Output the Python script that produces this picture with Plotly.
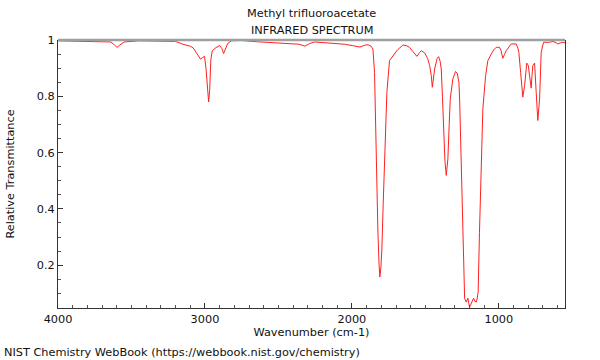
import plotly.graph_objects as go

wavenumber = [4000, 3900, 3800, 3700, 3640, 3615, 3598, 3580, 3550, 3450, 3300, 3200, 3150, 3100,
              3080, 3060, 3045, 3030, 3015, 3003, 2993, 2985, 2975, 2968, 2960, 2950, 2925, 2900,
              2885, 2873, 2862, 2845, 2820, 2750, 2650, 2550, 2450, 2360, 2320, 2290, 2254, 2130,
              2050, 1995, 1946, 1910, 1890, 1870, 1857, 1846, 1834, 1823, 1815, 1810, 1803, 1796,
              1787, 1778, 1762, 1744, 1721, 1690, 1653, 1630, 1608, 1585, 1558, 1540, 1528, 1505,
              1485, 1471, 1460, 1453, 1445, 1437, 1420, 1410, 1400, 1392, 1384, 1376, 1367, 1358,
              1347, 1338, 1331, 1313, 1295, 1283, 1272, 1267, 1256, 1245, 1233, 1222, 1216, 1211,
              1205, 1199, 1193, 1188, 1180, 1172, 1163, 1154, 1148, 1141, 1132, 1120, 1109, 1090,
              1075, 1052, 1035, 1018, 996, 985, 973, 962, 950, 916, 882, 870, 864, 852, 837, 825,
              810, 800, 796, 784, 780, 775, 769, 757, 750, 746, 735, 723, 712, 696, 655, 632, 610,
              599, 580, 565, 550]
transmittance = [0.997, 0.996, 0.995, 0.996, 0.993, 0.982, 0.974, 0.982, 0.993, 0.997, 0.997, 0.995, 0.985, 0.978,
                 0.972, 0.955, 0.94, 0.932, 0.938, 0.942, 0.9, 0.83, 0.78, 0.82, 0.93, 0.962, 0.973, 0.98,
                 0.97, 0.952, 0.968, 0.988, 0.997, 0.998, 0.994, 0.991, 0.989, 0.985, 0.978, 0.987, 0.993, 0.989,
                 0.985, 0.98, 0.975, 0.982, 0.983, 0.978, 0.968, 0.885, 0.555, 0.317, 0.2, 0.158, 0.19, 0.258,
                 0.42, 0.578, 0.814, 0.927, 0.945, 0.965, 0.982, 0.98, 0.974, 0.958, 0.942, 0.955, 0.962, 0.954,
                 0.935, 0.909, 0.874, 0.832, 0.86, 0.897, 0.935, 0.941, 0.925, 0.897, 0.8, 0.672, 0.57, 0.519,
                 0.578, 0.7, 0.79, 0.862, 0.888, 0.882, 0.85, 0.79, 0.554, 0.258, 0.081, 0.069, 0.08, 0.083,
                 0.065, 0.051, 0.058, 0.063, 0.075, 0.083, 0.072, 0.069, 0.08, 0.104, 0.317, 0.554, 0.755, 0.874,
                 0.927, 0.95, 0.965, 0.974, 0.974, 0.962, 0.935, 0.948, 0.962, 0.986, 0.986, 0.97, 0.956, 0.885, 0.797, 0.838,
                 0.918, 0.91, 0.897, 0.85, 0.829, 0.87, 0.909, 0.918, 0.87, 0.814, 0.714, 0.79, 0.956, 0.992, 0.992, 0.995, 0.99,
                 0.986, 0.99, 0.992, 0.99]

x_tick_vals = [4000, 3000, 2000, 1000]
y_tick_vals = [0.2, 0.4, 0.6, 0.8, 1.0]
y_tick_text = ["0.2", "0.4", "0.6", "0.8", "1"]

FONT = "DejaVu Sans"
FS = 11.3

fig = go.Figure()
fig.add_trace(go.Scatter(x=wavenumber, y=transmittance, mode="lines",
                         line=dict(color="#ff2020", width=1), hoverinfo="skip"))

fig.update_layout(
    width=600, height=360,
    margin=dict(l=58, r=35, t=40, b=52, autoexpand=False),
    paper_bgcolor="white", plot_bgcolor="white",
    showlegend=False,
    font=dict(family=FONT, size=FS, color="#111"),
    xaxis=dict(range=[4000, 550], tickvals=x_tick_vals, ticks="inside", ticklen=5,
               tickcolor="#333", showline=True, linecolor="#333", linewidth=1,
               showgrid=False, zeroline=False, mirror=False, automargin=False,
               minor=dict(dtick=100, tick0=0, ticks="inside", ticklen=3, tickcolor="#555"),
               title=dict(text="Wavenumber (cm-1)", standoff=0, font=dict(size=FS, color="#111")),
               tickfont=dict(size=FS, color="#111")),
    yaxis=dict(range=[0.048, 1.0], tickvals=y_tick_vals, ticktext=y_tick_text,
               ticks="inside", ticklen=5, tickcolor="#333",
               showline=True, linecolor="#333", linewidth=1, mirror=True,
               showgrid=False, zeroline=False, automargin=False,
               minor=dict(dtick=0.05, tick0=0, ticks="inside", ticklen=3, tickcolor="#555"),
               title=dict(text="Relative Transmittance", standoff=19, font=dict(size=FS, color="#111")),
               tickfont=dict(size=FS, color="#111")),
    shapes=[dict(type="line", xref="paper", yref="paper", x0=0, x1=1, y0=1, y1=1,
                 line=dict(color="#a0a0a0", width=2.5))],
    annotations=[
        dict(text="Methyl trifluoroacetate", xref="paper", yref="paper", x=0.5, y=1,
             yshift=27, showarrow=False, xanchor="center", yanchor="middle",
             font=dict(size=FS, color="#111")),
        dict(text="INFRARED SPECTRUM", xref="paper", yref="paper", x=0.5, y=1,
             yshift=10, showarrow=False, xanchor="center", yanchor="middle",
             font=dict(size=FS, color="#111")),
        dict(text="NIST Chemistry WebBook (https://webbook.nist.gov/chemistry)",
             xref="paper", yref="paper", x=0, xshift=-56, y=0, yshift=-44,
             showarrow=False, xanchor="left", yanchor="middle",
             font=dict(size=FS, color="#111")),
    ],
)

fig.write_html("out.html", config={"displayModeBar": False},
               post_script="document.body.style.margin='0';")
